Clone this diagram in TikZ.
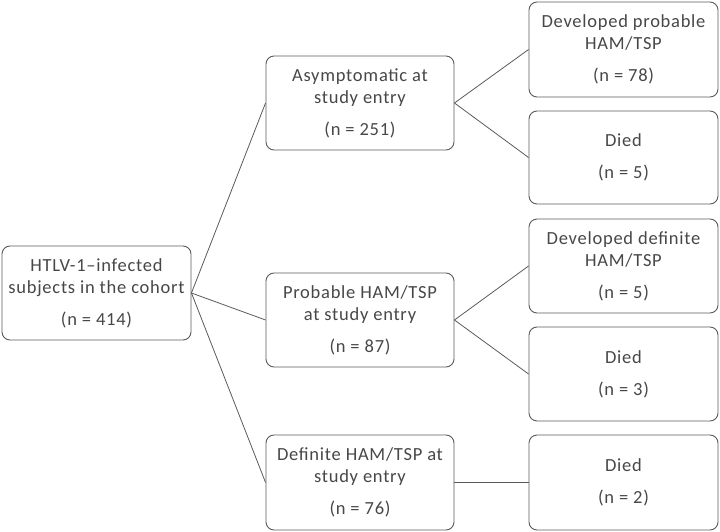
\documentclass[tikz,border=0pt]{standalone}
\usepackage{fontspec}
\setmainfont[LetterSpace=4]{Carlito}
\definecolor{txtgray}{HTML}{474747}
\definecolor{linegray}{HTML}{5A5A5A}
\begin{document}
\begin{tikzpicture}[x=1pt,y=-1pt,
  box/.style={draw=linegray, line width=0.9pt, rounded corners=8pt,
    minimum width=188pt, minimum height=94pt, align=center,
    text=txtgray, font=\fontsize{18.5}{22}\selectfont, inner sep=0pt},
  link/.style={draw=linegray, line width=0.8pt}]
\useasboundingbox (0,0) rectangle (720,532);
\node[box, minimum width=189pt] (root) at (96.5,293) {HTLV-1–infected\\subjects in the cohort\\[10pt](n = 414)};
\node[box] (a1) at (360,103) {Asymptomatic at\\study entry\\[10pt](n = 251)};
\node[box] (a2) at (360,320) {Probable HAM/TSP\\at study entry\\[10pt](n = 87)};
\node[box, minimum height=95pt] (a3) at (360,482.5) {Definite HAM/TSP at\\study entry\\[10pt](n = 76)};
\node[box, minimum width=189pt, minimum height=95pt] (b1) at (623.5,49.5) {Developed probable\\HAM/TSP\\[10pt](n = 78)};
\node[box, minimum width=189pt, minimum height=93pt] (b2) at (623.5,157.5) {Died\\[10pt](n = 5)};
\node[box, minimum width=189pt] (b3) at (623.5,266) {Developed definite\\HAM/TSP\\[10pt](n = 5)};
\node[box, minimum width=189pt] (b4) at (623.5,374) {Died\\[10pt](n = 3)};
\node[box, minimum width=189pt, minimum height=95pt] (b5) at (623.5,482.5) {Died\\[10pt](n = 2)};
\draw[link] (root.east) -- (a1.west);
\draw[link] (root.east) -- (a2.west);
\draw[link] (root.east) -- (a3.west);
\draw[link] (a1.east) -- (b1.west);
\draw[link] (a1.east) -- (b2.west);
\draw[link] (a2.east) -- (b3.west);
\draw[link] (a2.east) -- (b4.west);
\draw[link] (a3.east) -- (b5.west);
\end{tikzpicture}
\end{document}
